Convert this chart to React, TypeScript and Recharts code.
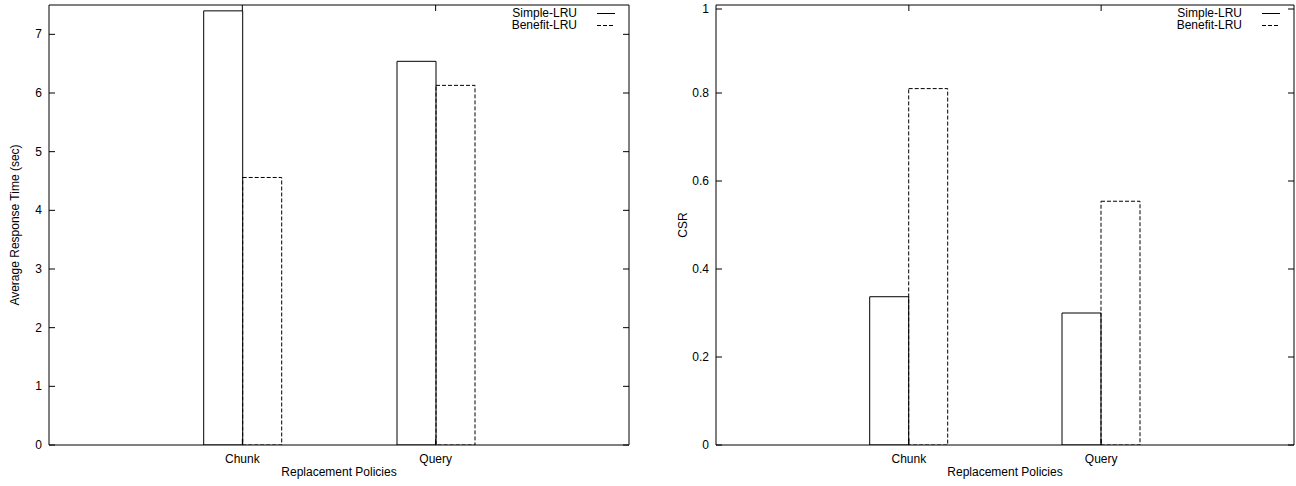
import { ComposedChart, Bar, Line, XAxis, YAxis } from 'recharts';

const categories = ['Chunk', 'Query'];
const simpleResp = [7.4, 6.54];
const benefitResp = [4.56, 6.13];
const simpleCsr = [0.337, 0.3];
const benefitCsr = [0.81, 0.554];
const respTicks = [0, 1, 2, 3, 4, 5, 6, 7];
const csrTicks = [0, 0.2, 0.4, 0.6, 0.8, 1];

const respData = categories.map((name, i) => ({ name, simple: simpleResp[i], benefit: benefitResp[i] }));
const csrData = categories.map((name, i) => ({ name, simple: simpleCsr[i], benefit: benefitCsr[i] }));

const FONT = 'Liberation Sans, Arial, Helvetica, sans-serif';
const M = 7; // gap between axis and tick label
const T = 6; // inward tick length

const LeftTick = (p: any) => (
  <g>
    <line x1={p.x + M} x2={p.x + M + T} y1={p.y} y2={p.y} stroke="#000" />
    <text x={p.x} y={p.y} dy={4} textAnchor="end" fontSize={12} fontFamily={FONT} fill="#000">
      {p.payload.value}
    </text>
  </g>
);
const RightTick = (p: any) => <line x1={p.x - M} x2={p.x - M - T} y1={p.y} y2={p.y} stroke="#000" />;
const TopTick = (p: any) => <line x1={p.x} x2={p.x} y1={p.y + M} y2={p.y + M + T} stroke="#000" />;
const BottomTick = (p: any) => (
  <g>
    <line x1={p.x} x2={p.x} y1={p.y - M} y2={p.y - M - T} stroke="#000" />
    <text x={p.x} y={p.y} dy={11} textAnchor="middle" fontSize={12} fontFamily={FONT} fill="#000">
      {p.payload.value}
    </text>
  </g>
);

const legendItems = [
  { label: 'Simple-LRU', dash: undefined },
  { label: 'Benefit-LRU', dash: '4 2' },
];

const LegendBox = ({ right }: { right: number }) => (
  <div
    style={{
      position: 'absolute',
      top: 7,
      right,
      fontFamily: FONT,
      fontSize: 12,
      lineHeight: '12px',
      color: '#000',
    }}
  >
    {legendItems.map((e) => (
      <div key={e.label} style={{ display: 'flex', justifyContent: 'flex-end', alignItems: 'center' }}>
        <span>{e.label}</span>
        <svg width={38} height={12}>
          <line x1={20} x2={38} y1={6.5} y2={6.5} stroke="#000" strokeDasharray={e.dash} />
        </svg>
      </div>
    ))}
  </div>
);

function Panel({ data, ticks, max, label, labelX, left, right }: any) {
  return (
    <div style={{ position: 'relative', width: 648, height: 486 }}>
      <ComposedChart
        width={648}
        height={486}
        data={data}
        margin={{ top: 4, right: right - 1, bottom: 0, left: 0 }}
        barGap={0}
        barSize={39}
      >
        <XAxis
          dataKey="name"
          xAxisId="b"
          height={41}
          padding={{ left: 96.7, right: 96.7 }}
          tickSize={0}
          tickMargin={M}
          tick={<BottomTick />}
          axisLine={{ stroke: '#000' }}
          label={({ viewBox }: any) => (
            <text
              x={viewBox.x + viewBox.width / 2}
              y={viewBox.y + 31}
              textAnchor="middle"
              fontSize={12}
              fontFamily={FONT}
              fill="#000"
            >
              Replacement Policies
            </text>
          )}
        />
        <XAxis
          dataKey="name"
          xAxisId="t"
          orientation="top"
          height={1}
          padding={{ left: 96.7, right: 96.7 }}
          tickSize={0}
          tickMargin={M}
          tick={<TopTick />}
          axisLine={{ stroke: '#000' }}
        />
        <YAxis
          yAxisId="l"
          width={left}
          domain={[0, max]}
          ticks={ticks}
          allowDataOverflow
          tickSize={0}
          tickMargin={M}
          tick={<LeftTick />}
          axisLine={{ stroke: '#000' }}
          label={({ viewBox }: any) => {
            const cx = viewBox.x + labelX;
            const cy = viewBox.y + viewBox.height / 2;
            return (
              <text
                x={cx}
                y={cy}
                transform={`rotate(-90, ${cx}, ${cy})`}
                textAnchor="middle"
                dominantBaseline="central"
                fontSize={12}
                fontFamily={FONT}
                fill="#000"
              >
                {label}
              </text>
            );
          }}
        />
        <YAxis
          yAxisId="r"
          orientation="right"
          width={1}
          domain={[0, max]}
          ticks={ticks}
          allowDataOverflow
          tickSize={0}
          tickMargin={M}
          tick={<RightTick />}
          axisLine={{ stroke: '#000' }}
        />
        <Bar dataKey="simple" name="Simple-LRU" xAxisId="b" yAxisId="l" fill="none" stroke="#000" isAnimationActive={false} />
        <Bar
          dataKey="benefit"
          name="Benefit-LRU"
          xAxisId="b"
          yAxisId="l"
          fill="none"
          stroke="#000"
          strokeDasharray="4 2"
          isAnimationActive={false}
        />
        {/* invisible series so the mirrored top/right axes get drawn */}
        <Line
          dataKey="simple"
          xAxisId="t"
          yAxisId="r"
          stroke="none"
          dot={false}
          activeDot={false}
          legendType="none"
          isAnimationActive={false}
        />
      </ComposedChart>
      <LegendBox right={right + 14} />
    </div>
  );
}

export default function App() {
  return (
    <div style={{ position: 'absolute', left: 0, top: 0, width: 1296, height: 486, display: 'flex', background: '#fff' }}>
      <Panel data={respData} ticks={respTicks} max={7.5} label="Average Response Time (sec)" labelX={15} left={49} right={19} />
      <Panel data={csrData} ticks={csrTicks} max={1} label="CSR" labelX={35} left={68} right={2} />
    </div>
  );
}
